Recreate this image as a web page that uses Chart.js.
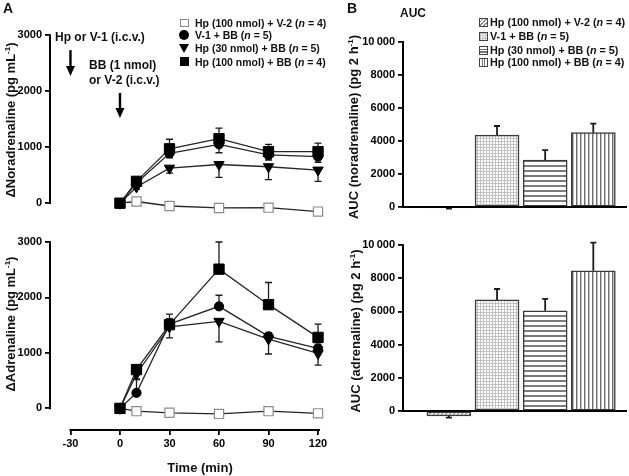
<!DOCTYPE html>
<html><head><meta charset="utf-8">
<script src="https://cdn.jsdelivr.net/npm/chart.js@4.4.1/dist/chart.umd.min.js"></script>
<style>
html,body{margin:0;padding:0;background:#fff;}
#wrap{position:relative;width:629px;height:476px;overflow:hidden;font-family:"Liberation Sans",Arial,Helvetica,sans-serif;color:#111;}
#wrap canvas{position:absolute;left:0;top:0;}
.t{position:absolute;white-space:nowrap;font-weight:bold;line-height:1;}
.rot{position:absolute;white-space:nowrap;font-weight:bold;font-size:13px;line-height:1;transform:translate(-50%,-50%) rotate(-90deg);}
.sup{font-size:8px;vertical-align:5px;}
.mk{position:absolute;box-sizing:border-box;}
</style></head>
<body><div id="wrap">
<canvas id="cNa" width="629" height="476"></canvas>
<canvas id="cAd" width="629" height="476"></canvas>
<canvas id="cAucNa" width="629" height="476"></canvas>
<canvas id="cAucAd" width="629" height="476"></canvas>

<div class="t" style="font-size:14px;left:3px;top:1px;">A</div>
<div class="t" style="font-size:14px;left:347px;top:1px;">B</div>
<div class="t" style="font-size:12px;left:400px;top:6.5px;">AUC</div>

<div class="t" style="font-size:12px;left:55px;top:31px;">Hp or V-1 (i.c.v.)</div>
<div class="t" style="font-size:12px;left:89px;top:59px;">BB (1 nmol)</div>
<div class="t" style="font-size:12px;left:89px;top:74px;">or V-2 (i.c.v.)</div>

<div class="t" style="font-size:13px;left:200px;top:460.5px;transform:translateX(-50%);">Time (min)</div>

<div class="rot" style="left:10px;top:120px;">ΔNoradrenaline (pg mL<span class="sup">-1</span>)</div>
<div class="rot" style="left:10px;top:324px;">ΔAdrenaline (pg mL<span class="sup">-1</span>)</div>
<div class="rot" style="left:353px;top:127px;">AUC (noradrenaline) (pg 2 h<span class="sup">-1</span>)</div>
<div class="rot" style="left:355px;top:331px;">AUC (adrenaline) (pg 2 h<span class="sup">-1</span>)</div>

<!-- left legend -->
<div class="mk" style="left:180px;top:18.5px;width:8.5px;height:8.5px;border:1.2px solid #888;background:#fff;"></div>
<div class="mk" style="left:179.3px;top:30px;width:10px;height:10px;border-radius:50%;background:#000;"></div>
<div class="mk" style="left:179.3px;top:44px;width:0;height:0;border-left:5px solid transparent;border-right:5px solid transparent;border-top:9px solid #000;"></div>
<div class="mk" style="left:179.8px;top:57.2px;width:9px;height:9px;background:#000;"></div>
<div class="t" style="font-size:10.5px;left:195px;top:17.5px;">Hp (100 nmol) + V-2 (<i>n</i> = 4)</div>
<div class="t" style="font-size:10.5px;left:195px;top:29.8px;">V-1 + BB (<i>n</i> = 5)</div>
<div class="t" style="font-size:10.5px;left:195px;top:43.1px;">Hp (30 nmol) + BB (<i>n</i> = 5)</div>
<div class="t" style="font-size:10.5px;left:195px;top:56.5px;">Hp (100 nmol) + BB (<i>n</i> = 4)</div>

<!-- right legend -->
<div class="mk" style="left:478.5px;top:18.2px;width:9px;height:9px;border:1px solid #444;background:repeating-linear-gradient(135deg,#fff 0 1.5px,#888 1.5px 2.6px);"></div>
<div class="mk" style="left:478.5px;top:31.5px;width:9px;height:9px;border:1px solid #444;background-color:#fff;background-image:linear-gradient(#bbb 1px,transparent 1px),linear-gradient(90deg,#bbb 1px,transparent 1px);background-size:2.5px 2.5px;"></div>
<div class="mk" style="left:478.5px;top:45.5px;width:9px;height:9px;border:1px solid #444;background:repeating-linear-gradient(180deg,#fff 0 1.5px,#777 1.5px 2.8px);"></div>
<div class="mk" style="left:478.5px;top:58.2px;width:9px;height:9px;border:1px solid #444;background:repeating-linear-gradient(90deg,#fff 0 1.5px,#777 1.5px 2.6px);"></div>
<div class="t" style="font-size:10.8px;left:490px;top:17.3px;">Hp (100 nmol) + V-2 (<i>n</i> = 4)</div>
<div class="t" style="font-size:10.8px;left:490px;top:30.6px;">V-1 + BB (<i>n</i> = 5)</div>
<div class="t" style="font-size:10.8px;left:490px;top:44.6px;">Hp (30 nmol) + BB (<i>n</i> = 5)</div>
<div class="t" style="font-size:10.8px;left:490px;top:57.3px;">Hp (100 nmol) + BB (<i>n</i> = 4)</div>
</div>

<script>
// ---------------- data ----------------
const times = [0, 10, 30, 60, 90, 120];
const timeTicks = [-30, 0, 30, 60, 90, 120];
const deltaTicks = [0, 1000, 2000, 3000];
const aucTicks = [0, 2000, 4000, 6000, 8000, 10000];
const aucTickLabels = ['0', '2000', '4000', '6000', '8000', '10\u2009000'];
const groups = ['Hp (100 nmol) + V-2', 'V-1 + BB', 'Hp (30 nmol) + BB', 'Hp (100 nmol) + BB'];
const injectionTimes = [-30, 0];        // Hp or V-1, then BB or V-2
const arrowTopNa = [2730, 1965];        // arrow extents in ΔNoradrenaline units
const arrowTipNa = [2270, 1520];

// ΔNoradrenaline (pg/mL)
const naHp100V2 = [0, 30, -50, -85, -80, -150];
const naHp100V2Err = [0, 30, 30, 40, 40, 50];
const naV1BB = [0, 360, 890, 1050, 860, 830];
const naV1BBErr = [0, 40, 80, 150, 90, 100];
const naHp30BB = [0, 290, 625, 690, 650, 590];
const naHp30BBErr = [0, 40, 90, 230, 230, 200];
const naHp100BB = [0, 390, 970, 1150, 920, 920];
const naHp100BBErr = [0, 50, 170, 190, 130, 150];

// ΔAdrenaline (pg/mL)
const adHp100V2 = [0, -50, -80, -100, -50, -90];
const adHp100V2Err = [0, 30, 30, 40, 40, 40];
const adV1BB = [0, 280, 1520, 1840, 1300, 1080];
const adV1BBErr = [0, 250, 100, 200, 60, 80];
const adHp30BB = [0, 620, 1470, 1570, 1250, 990];
const adHp30BBErr = [0, 100, 200, 370, 270, 210];
const adHp100BB = [0, 700, 1510, 2510, 1870, 1280];
const adHp100BBErr = [0, 80, 190, 490, 400, 240];

// AUC (pg 2 h-1)
const aucNa = [-60, 4350, 2840, 4500];
const aucNaErr = [40, 550, 600, 550];
const aucAd = [-300, 6690, 6040, 8450];
const aucAdErr = [100, 660, 710, 1690];

// ---------------- helpers ----------------
const FONT = '"Liberation Sans", Arial, Helvetica, sans-serif';

function drawErrors(chart, capHalf, lw) {
  const ctx = chart.ctx, ys = chart.scales.y;
  ctx.save();
  ctx.strokeStyle = '#1a1a1a';
  ctx.lineWidth = lw;
  chart.data.datasets.forEach((ds, i) => {
    if (!ds.errors) return;
    const meta = chart.getDatasetMeta(i);
    meta.data.forEach((el, j) => {
      const e = ds.errors[j];
      if (!e) return;
      const v = ds.data[j].y;
      const dir = ds.errDir !== undefined ? ds.errDir : (v >= 0 ? 1 : -1);
      const y0 = ys.getPixelForValue(v);
      const y1 = ys.getPixelForValue(v + dir * e);
      ctx.beginPath();
      ctx.moveTo(el.x, y0); ctx.lineTo(el.x, y1);
      ctx.moveTo(el.x - capHalf, y1); ctx.lineTo(el.x + capHalf, y1);
      ctx.stroke();
    });
  });
  ctx.restore();
}

const gpPlugin = {
  id: 'gp',
  beforeDatasetsDraw(chart, args, opts) {
    if (opts.kind === 'line') drawErrors(chart, 3.5, 1.3);
  },
  afterDatasetsDraw(chart, args, opts) {
    const ctx = chart.ctx, ys = chart.scales.y, xs = chart.scales.x, ca = chart.chartArea;
    if (opts.kind === 'bar') drawErrors(chart, 3, 1.8);
    ctx.save();
    ctx.strokeStyle = '#000';
    ctx.lineWidth = 2;
    ctx.beginPath();
    ctx.moveTo(ca.left, ys.getPixelForValue(opts.yLine[0]) + 0.8);
    ctx.lineTo(ca.left, ys.getPixelForValue(opts.yLine[1]) - 0.8);
    ctx.stroke();
    if (opts.xLine) {
      ctx.beginPath();
      ctx.moveTo(xs.getPixelForValue(opts.xLine[0]) - 1, ca.bottom);
      ctx.lineTo(xs.getPixelForValue(opts.xLine[1]) + 2, ca.bottom);
      ctx.stroke();
    }
    if (opts.zeroLine) {
      const y0 = ys.getPixelForValue(0);
      ctx.beginPath();
      ctx.moveTo(ca.left, y0); ctx.lineTo(ca.right, y0);
      ctx.stroke();
    }
    if (opts.arrows) {
      ctx.fillStyle = '#000';
      ctx.lineWidth = 2.4;
      opts.arrows.times.forEach((t, k) => {
        const x = xs.getPixelForValue(t);
        const yTop = ys.getPixelForValue(opts.arrows.top[k]);
        const yTip = ys.getPixelForValue(opts.arrows.tip[k]);
        ctx.beginPath();
        ctx.moveTo(x, yTop); ctx.lineTo(x, yTip - 8);
        ctx.stroke();
        ctx.beginPath();
        ctx.moveTo(x - 4.5, yTip - 10); ctx.lineTo(x + 4.5, yTip - 10); ctx.lineTo(x, yTip);
        ctx.closePath(); ctx.fill();
      });
    }
    ctx.restore();
  }
};

function lineDs(label, vals, errs, dir, st) {
  return {
    label, data: times.map((t, i) => ({ x: t, y: vals[i] })),
    errors: errs, errDir: dir,
    borderColor: '#262626', borderWidth: 1.3, tension: 0, clip: false,
    pointStyle: st.ps, pointRadius: st.r, pointRotation: st.rot || 0,
    pointBackgroundColor: st.bg, pointBorderColor: st.bc, pointBorderWidth: st.bw
  };
}
const stV2 = { ps: 'rect', r: 6.5, bg: '#fff', bc: '#8c8c8c', bw: 1.2 };
const stV1 = { ps: 'circle', r: 4.6, bg: '#000', bc: '#000', bw: 1 };
const st30 = { ps: 'triangle', r: 6, rot: 180, bg: '#000', bc: '#000', bw: 1 };
const st100 = { ps: 'rect', r: 7.3, bg: '#000', bc: '#000', bw: 1 };

function tickFont() { return { family: FONT, size: 11, weight: 'bold' }; }

function lineChart(id, sets, pad, yMin, showX, extra) {
  const xOpts = {
    type: 'linear', min: -42.4, max: 122.4, display: showX,
    afterBuildTicks: s => { s.ticks = timeTicks.map(v => ({ value: v })); },
    border: { display: false },
    grid: { drawOnChartArea: false, drawTicks: true, tickLength: 5, color: '#000', lineWidth: 1.8 },
    ticks: { autoSkip: false, maxRotation: 0, padding: 2, color: '#000', font: tickFont(), callback: v => String(v) }
  };
  if (showX) xOpts.afterFit = s => { s.height = 46; };
  return new Chart(document.getElementById(id), {
    type: 'line',
    data: { datasets: sets },
    options: {
      responsive: false, animation: false, events: [],
      layout: { padding: pad },
      plugins: { legend: { display: false }, tooltip: { enabled: false }, gp: Object.assign({ kind: 'line', yLine: [0, 3000] }, extra) },
      scales: {
        x: xOpts,
        y: {
          type: 'linear', min: yMin, max: 3000,
          afterBuildTicks: s => { s.ticks = deltaTicks.map(v => ({ value: v })); },
          afterFit: s => { s.width = 50; },
          border: { display: false },
          grid: { drawOnChartArea: false, drawTicks: true, tickLength: 5, color: '#000', lineWidth: 1.8 },
          ticks: { autoSkip: false, padding: 3, color: '#000', font: tickFont(), callback: v => String(v) }
        }
      }
    },
    plugins: [gpPlugin]
  });
}

// Noradrenaline (top left)
lineChart('cNa', [
  lineDs('Hp (100 nmol) + BB', naHp100BB, naHp100BBErr, 1, st100),
  lineDs('V-1 + BB', naV1BB, naV1BBErr, -1, stV1),
  lineDs('Hp (30 nmol) + BB', naHp30BB, naHp30BBErr, -1, st30),
  lineDs('Hp (100 nmol) + V-2', naHp100V2, naHp100V2Err, -1, stV2)
], { left: 0, top: 35, right: 307, bottom: 256 }, -300, false,
  { arrows: { times: injectionTimes, top: arrowTopNa, tip: arrowTipNa } });

// Adrenaline (bottom left)
lineChart('cAd', [
  lineDs('Hp (100 nmol) + BB', adHp100BB, adHp100BBErr, 1, st100),
  lineDs('V-1 + BB', adV1BB, adV1BBErr, 1, stV1),
  lineDs('Hp (30 nmol) + BB', adHp30BB, adHp30BBErr, -1, st30),
  lineDs('Hp (100 nmol) + V-2', adHp100V2, adHp100V2Err, -1, stV2)
], { left: 0, top: 242, right: 307, bottom: 0 }, -390, true,
  { xLine: [-30, 120] });

// ---------------- patterns ----------------
function pattern(kind) {
  const c = document.createElement('canvas');
  const g = c.getContext('2d');
  if (kind === 'diag') {
    c.width = 4; c.height = 4;
    g.fillStyle = '#fff'; g.fillRect(0, 0, 4, 4);
    g.strokeStyle = '#8a8a8a'; g.lineWidth = 1.1;
    g.beginPath();
    g.moveTo(-1, 1); g.lineTo(1, -1);
    g.moveTo(0, 4); g.lineTo(4, 0);
    g.moveTo(3, 5); g.lineTo(5, 3);
    g.stroke();
  } else if (kind === 'grid') {
    c.width = 3; c.height = 3;
    g.fillStyle = '#fff'; g.fillRect(0, 0, 3, 3);
    g.fillStyle = '#c2c2c2'; g.fillRect(0, 0, 3, 1); g.fillRect(0, 0, 1, 3);
  } else if (kind === 'hor') {
    c.width = 4; c.height = 5;
    g.fillStyle = '#fff'; g.fillRect(0, 0, 4, 5);
    g.fillStyle = '#7c7c7c'; g.fillRect(0, 0, 4, 2);
  } else {
    c.width = 4; c.height = 4;
    g.fillStyle = '#fff'; g.fillRect(0, 0, 4, 4);
    g.fillStyle = '#707070'; g.fillRect(0, 0, 1, 4);
    g.fillStyle = '#bdbdbd'; g.fillRect(1, 0, 1, 4);
  }
  return g.createPattern(c, 'repeat');
}
const groupFills = [pattern('diag'), pattern('grid'), pattern('hor'), pattern('vert')];

function barChart(id, vals, errs, pad) {
  return new Chart(document.getElementById(id), {
    type: 'bar',
    data: {
      datasets: [{
        label: 'AUC', data: groups.map((g, i) => ({ x: i + 1, y: vals[i] })), errors: errs,
        backgroundColor: groupFills, borderColor: '#3a3a3a', borderWidth: 1.5, borderSkipped: false,
        barThickness: 44, clip: false
      }]
    },
    options: {
      responsive: false, animation: false, events: [],
      layout: { padding: pad },
      plugins: { legend: { display: false }, tooltip: { enabled: false }, gp: { kind: 'bar', yLine: [0, 10000], zeroLine: true } },
      scales: {
        x: { type: 'linear', min: 0.046, max: 4.70, display: false, offset: false },
        y: {
          type: 'linear', min: -500, max: 10000,
          afterBuildTicks: s => { s.ticks = aucTicks.map(v => ({ value: v })); },
          afterFit: s => { s.width = 53; },
          border: { display: false },
          grid: { drawOnChartArea: false, drawTicks: true, tickLength: 5, color: '#000', lineWidth: 1.8 },
          ticks: { autoSkip: false, padding: 3, color: '#000', font: tickFont(),
            callback: v => aucTickLabels[aucTicks.indexOf(v)] }
        }
      }
    },
    plugins: [gpPlugin]
  });
}
barChart('cAucNa', aucNa, aucNaErr, { left: 350, top: 41.7, right: 2, bottom: 260.7 });
barChart('cAucAd', aucAd, aucAdErr, { left: 350, top: 245, right: 2, bottom: 56.7 });
</script>
</body></html>
